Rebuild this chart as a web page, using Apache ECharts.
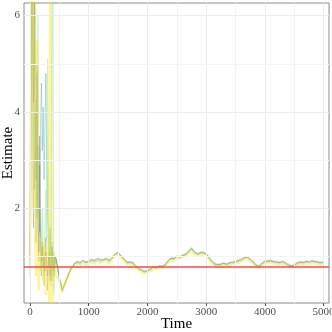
<!DOCTYPE html>
<html lang="en">
<head>
	<meta charset="UTF-8">
	<title>estimate</title>
	<style>body{margin:0;background:#fff}</style>
</head>
<body>
	<div id="main" style="width: 332px;height: 332px"></div>
	<script src="https://cdn.jsdelivr.net/npm/echarts@6/dist/echarts.min.js"></script>
	<script>
		// time points: dense at the start, every 50 afterwards
		var timesEarly = [0,15,30,45,60,75,90,105,120,135,150,165,180,195,210,225,240,255,270,285,300,315,330,345,360,375,390,405,420,435,450]
		var timesLate = [500,550,600,650,700,750,800,850,900,950,
			1000,1050,1100,1150,1200,1250,1300,1350,1400,1450,
			1500,1550,1600,1650,1700,1750,1800,1850,1900,1950,
			2000,2050,2100,2150,2200,2250,2300,2350,2400,2450,
			2500,2550,2600,2650,2700,2750,2800,2850,2900,2950,
			3000,3050,3100,3150,3200,3250,3300,3350,3400,3450,
			3500,3550,3600,3650,3700,3750,3800,3850,3900,3950,
			4000,4050,4100,4150,4200,4250,4300,4350,4400,4450,
			4500,4550,4600,4650,4700,4750,4800,4850,4900,4950,5000]

		var purpleEarly = [1.0,2.4,5.8,7.0,4.2,6.5,3.4,2.6,5.0,1.8,1.1,3.5,1.5,0.9,1.2,0.8,1.0,0.7,1.1,0.9,0.6,1.0,0.8,0.5,0.9,1.2,0.8,0.7,1.0,0.95,0.9]
		var blueEarly = [0.8,4.5,7.0,3.0,1.6,6.8,2.2,1.3,4.8,1.7,0.9,2.9,1.2,0.6,1.3,0.9,0.4,1.0,1.4,0.7,0.3,0.9,1.1,0.6,1.0,1.3,0.8,0.6,0.9,1.0,0.92]
		var tealEarly = [1.2,6.8,7.0,5.1,3.6,2.4,4.0,2.9,1.8,3.3,2.2,1.5,3.8,4.6,3.2,4.1,2.6,3.7,4.8,3.0,1.9,1.2,0.8,1.6,0.9,0.5,1.1,0.8,1.0,0.85,0.95]
		var greenEarly = [0.6,3.0,7.0,6.2,7.0,4.4,7.0,3.9,2.0,6.0,2.3,1.6,0.7,1.4,2.0,1.1,0.6,1.5,2.4,1.3,5.1,2.2,0.9,1.4,0.4,7.0,6.5,0.2,0.7,1.0,0.9]
		var yellowEarly = [0.9,3.5,7.0,6.5,2.0,7.0,1.2,0.6,5.5,0.9,0.3,1.1,0.7,1.4,0.8,0.5,1.2,0.9,0.2,0.8,1.3,0.6,0.05,7.0,7.0,-0.3,0.6,1.1,0.9,0.7,0.6]

		var purpleLate = [0.57,0.31,0.46,0.61,0.77,0.85,0.91,0.88,0.93,0.89,
			0.90,0.94,0.93,0.97,0.95,0.93,0.96,0.92,0.97,1.06,
			1.08,1.02,0.96,0.88,0.89,0.88,0.81,0.76,0.72,0.69,
			0.71,0.74,0.79,0.77,0.81,0.80,0.83,0.91,0.97,0.96,
			1.01,0.99,1.03,1.05,1.11,1.18,1.09,1.06,1.08,1.09,
			1.06,0.98,0.90,0.85,0.83,0.85,0.86,0.85,0.87,0.89,
			0.90,0.92,0.94,0.98,0.99,0.95,0.89,0.83,0.80,0.86,
			0.90,0.91,0.92,0.90,0.89,0.88,0.90,0.87,0.83,0.81,
			0.82,0.87,0.89,0.88,0.90,0.89,0.91,0.90,0.89,0.88,0.89]
		var blueLate = [0.56,0.29,0.44,0.63,0.74,0.85,0.87,0.87,0.89,0.88,
			0.90,0.91,0.91,0.93,0.92,0.92,0.96,0.89,0.98,1.04,
			1.09,0.99,0.96,0.86,0.89,0.85,0.81,0.73,0.73,0.67,
			0.71,0.72,0.79,0.75,0.81,0.78,0.83,0.89,0.97,0.94,
			1.01,0.97,1.03,1.03,1.11,1.16,1.09,1.04,1.08,1.07,
			1.06,0.96,0.90,0.83,0.83,0.83,0.86,0.83,0.87,0.87,
			0.88,0.92,0.92,0.98,0.97,0.95,0.87,0.83,0.78,0.86,
			0.88,0.91,0.90,0.90,0.87,0.88,0.88,0.87,0.81,0.81,
			0.80,0.87,0.87,0.88,0.88,0.89,0.89,0.90,0.87,0.88,0.87]
		var tealLate = [0.53,0.32,0.47,0.60,0.76,0.83,0.89,0.85,0.91,0.88,
			0.88,0.93,0.89,0.95,0.90,0.94,0.94,0.91,0.96,1.04,
			1.07,1.01,0.94,0.88,0.87,0.87,0.79,0.75,0.71,0.69,
			0.69,0.74,0.77,0.77,0.79,0.80,0.81,0.91,0.95,0.96,
			0.99,0.99,1.01,1.05,1.09,1.16,1.09,1.04,1.08,1.07,
			1.06,0.96,0.90,0.83,0.83,0.83,0.86,0.83,0.87,0.87,
			0.90,0.90,0.94,0.96,0.99,0.93,0.89,0.81,0.80,0.84,
			0.90,0.89,0.92,0.88,0.89,0.86,0.90,0.85,0.83,0.79,
			0.82,0.85,0.89,0.86,0.90,0.87,0.91,0.88,0.89,0.86,0.89]
		var greenLate = [0.58,0.34,0.43,0.65,0.73,0.86,0.90,0.89,0.92,0.90,
			0.91,0.95,0.92,0.96,0.94,0.95,0.98,0.93,0.99,1.07,
			1.10,1.03,0.97,0.90,0.90,0.89,0.82,0.77,0.74,0.71,
			0.72,0.76,0.80,0.79,0.82,0.82,0.84,0.93,0.98,0.98,
			1.02,1.01,1.04,1.07,1.12,1.19,1.11,1.07,1.10,1.11,
			1.07,1.00,0.91,0.87,0.84,0.86,0.88,0.86,0.89,0.90,
			0.92,0.93,0.96,0.99,1.01,0.96,0.91,0.84,0.82,0.87,
			0.92,0.92,0.94,0.91,0.91,0.89,0.92,0.88,0.85,0.82,
			0.84,0.88,0.91,0.89,0.92,0.90,0.93,0.91,0.91,0.89,0.90]
		var yellowLate = [0.50,0.26,0.48,0.58,0.78,0.80,0.85,0.83,0.87,0.84,
			0.86,0.88,0.86,0.91,0.87,0.90,0.92,0.86,0.95,1.02,
			1.04,0.97,0.92,0.85,0.84,0.83,0.78,0.71,0.69,0.65,
			0.68,0.70,0.75,0.74,0.77,0.76,0.80,0.87,0.93,0.92,
			0.97,0.96,0.99,1.01,1.07,1.13,1.05,1.02,1.04,1.05,
			1.02,0.94,0.86,0.81,0.79,0.81,0.82,0.80,0.83,0.85,
			0.86,0.88,0.90,0.94,0.96,0.91,0.85,0.79,0.76,0.82,
			0.86,0.87,0.88,0.86,0.85,0.84,0.86,0.83,0.79,0.77,
			0.78,0.83,0.85,0.84,0.86,0.85,0.87,0.86,0.85,0.84,0.85]

		var trueValue = 0.8
		var xTicks = [0,1000,2000,3000,4000,5000]
		var xMinor = [500,1500,2500,3500,4500]
		var yTicks = [2,4,6]
		var yMinor = [1,3,5]

		var times = timesEarly.concat(timesLate)
		var chains = [
			{ color: '#440154', vals: purpleEarly.concat(purpleLate), op: 0.22, w: 1 },
			{ color: '#3B528B', vals: blueEarly.concat(blueLate), op: 0.22, w: 1 },
			{ color: '#21908C', vals: tealEarly.concat(tealLate), op: 0.3, w: 1 },
			{ color: '#5DC863', vals: greenEarly.concat(greenLate), op: 0.3, w: 1.2 },
			{ color: '#FDE725', vals: yellowEarly.concat(yellowLate), op: 0.45, w: 2.5 }
		]

		var font = 'Liberation Serif'
		var gridLines = []
		xTicks.forEach(function (v) { gridLines.push({ xAxis: v, lineStyle: { color: '#ebebeb', width: 1, type: 'solid' } }) })
		xMinor.forEach(function (v) { gridLines.push({ xAxis: v, lineStyle: { color: '#f4f4f4', width: 1, type: 'solid' } }) })
		yTicks.forEach(function (v) { gridLines.push({ yAxis: v, lineStyle: { color: '#ebebeb', width: 1, type: 'solid' } }) })
		yMinor.forEach(function (v) { gridLines.push({ yAxis: v, lineStyle: { color: '#f4f4f4', width: 1, type: 'solid' } }) })

		var series = [{
			type: 'line',
			data: [],
			z: 1,
			markLine: { silent: true, symbol: 'none', label: { show: false }, animation: false, data: gridLines }
		}]
		chains.forEach(function (c) {
			series.push({
				type: 'line',
				z: 2,
				showSymbol: false,
				clip: true,
				lineStyle: { color: c.color, width: c.w, opacity: c.op },
				data: times.map(function (t, i) { return [t, c.vals[i]] })
			})
		})
		series.push({
			type: 'line',
			data: [],
			z: 5,
			markLine: {
				silent: true, symbol: 'none', label: { show: false }, animation: false,
				data: [{ yAxis: trueValue, lineStyle: { color: '#f8474a', width: 1.5, type: 'solid' } }]
			}
		})

		var myChart = echarts.init(document.getElementById('main'))
		var option = {
			animation: false,
			backgroundColor: '#fff',
			grid: { left: 24, right: 3, top: 3, bottom: 29, outerBoundsMode: 'none', show: true, borderColor: '#8a8a8a', borderWidth: 1, backgroundColor: 'transparent' },
			xAxis: {
				type: 'value', min: -102, max: 5092,
				name: 'Time', nameLocation: 'middle', nameGap: 14, nameMoveOverlap: false,
				nameTextStyle: { fontFamily: font, fontSize: 15, color: '#000' },
				axisLine: { show: false },
				axisTick: { show: true, length: 3, lineStyle: { color: '#555' }, customValues: xTicks },
				axisLabel: { fontFamily: font, fontSize: 11, color: '#4d4d4d', margin: 4, customValues: xTicks, formatter: function (v) { return String(v) } },
				splitLine: { show: false }
			},
			yAxis: {
				type: 'value', min: 0.04, max: 6.26,
				name: 'Estimate', nameLocation: 'middle', nameGap: 8, nameRotate: 90, nameMoveOverlap: false,
				nameTextStyle: { fontFamily: font, fontSize: 15, color: '#000' },
				axisLine: { show: false },
				axisTick: { show: true, length: 3, lineStyle: { color: '#555' }, customValues: yTicks },
				axisLabel: { fontFamily: font, fontSize: 11, color: '#4d4d4d', margin: 4, customValues: yTicks },
				splitLine: { show: false }
			},
			series: series
		}
		myChart.setOption(option)
	</script>
</body>
</html>
